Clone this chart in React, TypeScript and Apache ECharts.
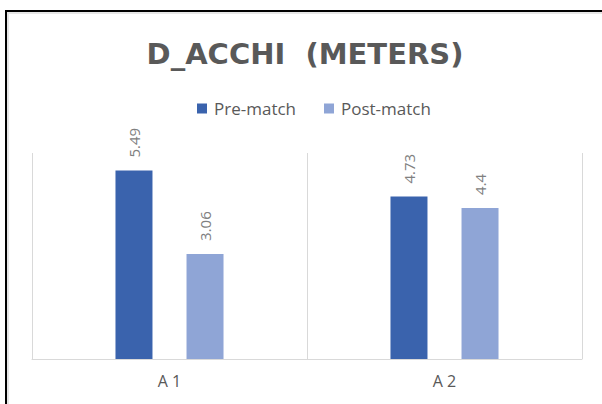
import React, { useEffect, useRef } from "react";
import * as echarts from "echarts";

const categories = ["A 1", "A 2"];
const preMatch = [5.49, 4.73];
const postMatch = [3.06, 4.4];
const seriesNames = ["Pre-match", "Post-match"];
const titleText = "D_ACCHI  (METERS)";

export default function App() {
  const ref = useRef<HTMLDivElement>(null);
  useEffect(() => {
    if (!ref.current) return;
    const chart = echarts.init(ref.current, undefined, { renderer: "svg" });
    const labelCfg = {
      show: true,
      position: "top" as const,
      rotate: 90,
      align: "left" as const,
      verticalAlign: "middle" as const,
      distance: 13,
      color: "#808080",
      fontSize: 15,
      fontFamily: "Open Sans",
    };
    chart.setOption({
      animation: false,
      backgroundColor: "#ffffff",
      title: {
        text: titleText,
        left: 300,
        top: 34,
        textAlign: "center",
        textStyle: {
          fontFamily: "DejaVu Sans",
          fontWeight: "bold",
          fontSize: 29,
          color: "#595959",
        },
      },
      legend: {
        top: 95,
        left: 192,
        icon: "rect",
        itemWidth: 10,
        itemHeight: 10,
        itemGap: 28,
        textStyle: { fontFamily: "Open Sans", fontSize: 17, color: "#595959", padding: [0, 0, 0, 2] },
        data: seriesNames,
      },
      grid: { left: 32, right: 20, top: 153, bottom: 45 },
      xAxis: {
        type: "category",
        data: categories,
        axisLine: { lineStyle: { color: "#d9d9d9", width: 1 } },
        axisTick: { show: false },
        splitLine: { show: true, lineStyle: { color: "#d9d9d9", width: 1 } },
        axisLabel: {
          fontFamily: "Open Sans",
          fontSize: 16,
          color: "#595959",
          margin: 14,
        },
      },
      yAxis: { type: "value", min: 0, max: 6, show: false },
      graphic: [
        {
          type: "rect",
          shape: { x: 8, y: 13, width: 700, height: 500 },
          style: { fill: "none", stroke: "#e6e6e6", lineWidth: 2 },
        },
        {
          type: "rect",
          shape: { x: 6, y: 11, width: 700, height: 500 },
          style: { fill: "none", stroke: "#000000", lineWidth: 2 },
        },
      ],
      series: [
        {
          name: seriesNames[0],
          type: "bar",
          data: preMatch,
          barWidth: 37,
          barGap: "92%",
          itemStyle: { color: "#3A63AD" },
          label: labelCfg,
        },
        {
          name: seriesNames[1],
          type: "bar",
          data: postMatch,
          barWidth: 37,
          barGap: "92%",
          itemStyle: { color: "#8FA5D6" },
          label: labelCfg,
        },
      ],
    });
    return () => chart.dispose();
  }, []);
  return (
    <div style={{ position: "fixed", left: 0, top: 0, width: 602, height: 404 }}>
      <div ref={ref} style={{ width: 602, height: 404 }} />
    </div>
  );
}
